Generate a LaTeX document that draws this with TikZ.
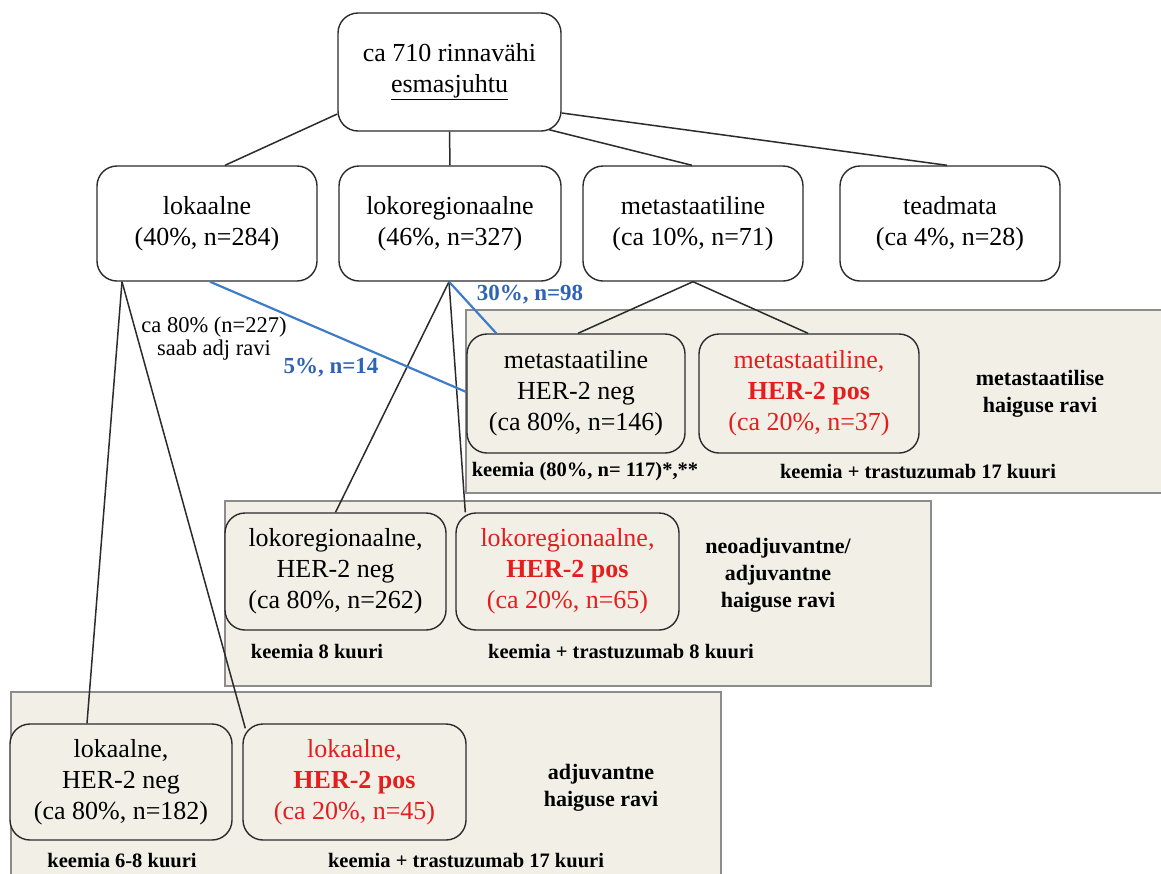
\documentclass[tikz,border=0pt]{standalone}
\usepackage{fontspec}
\setmainfont{Liberation Serif}
\definecolor{boxline}{HTML}{2B2B2B}
\definecolor{panelline}{HTML}{8C8C8C}
\definecolor{panelfill}{HTML}{F2EFE7}
\definecolor{blueline}{HTML}{3D7CC9}
\definecolor{bluetext}{HTML}{2F63B5}
\definecolor{redtext}{HTML}{E41E1E}
\tikzset{
  box/.style={draw=boxline, line width=1.4pt, rounded corners=20pt, fill=white,
    align=center, inner sep=0pt, font=\fontsize{26}{31}\selectfont},
  subbox/.style={box, fill=panelfill},
  posbox/.style={subbox, text=redtext},
  panel/.style={draw=panelline, fill=panelfill, line width=1.5pt, inner sep=0pt, anchor=north west},
  link/.style={line width=1.5pt, draw=boxline},
  bluelink/.style={line width=2.2pt, draw=blueline},
  note/.style={font=\bfseries\fontsize{20.5}{25}\selectfont, align=center, inner sep=0pt},
  sidenote/.style={font=\bfseries\fontsize{22}{27}\selectfont, align=center, inner sep=0pt},
  bluenote/.style={font=\bfseries\fontsize{23}{26}\selectfont, text=bluetext, inner sep=0pt},
  plainnote/.style={font=\fontsize{22.5}{23}\selectfont, align=center, inner sep=0pt},
}
\begin{document}
\begin{tikzpicture}[x=1pt, y=-1pt]
\useasboundingbox (0,0) rectangle (1161,873);
\clip (0,0) rectangle (1161,873);

% treatment panels
\node[panel, minimum width=712pt, minimum height=183pt] (pmet) at (465,309) {};
\node[panel, minimum width=706pt, minimum height=185pt] (preg) at (224,500) {};
\node[panel, minimum width=710pt, minimum height=190pt] (plok) at (10,691) {};

% root and stage boxes
\node[box, minimum width=223pt, minimum height=118pt] (top) at (449.5,72)
  {ca 710 rinnavähi\\\underline{esmasjuhtu}};
\node[box, minimum width=220pt, minimum height=115pt] (lok) at (207,223.5)
  {lokaalne\\(40\%, n=284)};
\node[box, minimum width=222pt, minimum height=115pt] (lokreg) at (450,223.5)
  {lokoregionaalne\\(46\%, n=327)};
\node[box, minimum width=220pt, minimum height=115pt] (met) at (693,223.5)
  {metastaatiline\\(ca 10\%, n=71)};
\node[box, minimum width=220pt, minimum height=115pt] (tead) at (950,223.5)
  {teadmata\\(ca 4\%, n=28)};

% HER-2 subgroups
\node[subbox, minimum width=218pt, minimum height=119pt] (metneg) at (576,393.5)
  {metastaatiline\\HER-2 neg\\(ca 80\%, n=146)};
\node[posbox, minimum width=220pt, minimum height=119pt] (metpos) at (809,393.5)
  {metastaatiline,\\\textbf{HER-2 pos}\\(ca 20\%, n=37)};
\node[subbox, minimum width=221pt, minimum height=117pt] (lrneg) at (335.5,571.5)
  {lokoregionaalne,\\HER-2 neg\\(ca 80\%, n=262)};
\node[posbox, minimum width=223pt, minimum height=117pt] (lrpos) at (567.5,571.5)
  {lokoregionaalne,\\\textbf{HER-2 pos}\\(ca 20\%, n=65)};
\node[subbox, minimum width=222pt, minimum height=116pt] (lneg) at (121,782)
  {lokaalne,\\HER-2 neg\\(ca 80\%, n=182)};
\node[posbox, minimum width=223pt, minimum height=116pt] (lpos) at (354.5,782)
  {lokaalne,\\\textbf{HER-2 pos}\\(ca 20\%, n=45)};

% panel captions and regimens
\node[sidenote] (tmet) at (1040,394) {metastaatilise\\haiguse ravi};
\node[note] (rmetneg) at (585,472) {keemia (80\%, n= 117)*,**};
\node[note] (rmetpos) at (918,472) {keemia + trastuzumab 17 kuuri};
\node[sidenote] (treg) at (778,575) {neoadjuvantne/\\adjuvantne\\haiguse ravi};
\node[note] (rlrneg) at (317,652) {keemia 8 kuuri};
\node[note] (rlrpos) at (621,652) {keemia + trastuzumab 8 kuuri};
\node[sidenote] (tlok) at (601,788) {adjuvantne\\haiguse ravi};
\node[note] (rlneg) at (122,860) {keemia 6-8 kuuri};
\node[note] (rlpos) at (466,860) {keemia + trastuzumab 17 kuuri};

% connectors from the root
\draw[link] ([yshift=-42pt]top.west) -- ([xshift=18pt]lok.north);
\draw[link] (top.south) -- (lokreg.north);
\draw[link] ([xshift=99.5pt,yshift=2pt]top.south) -- ([xshift=-1pt]met.north);
\draw[link] ([yshift=-41pt]top.east) -- ([xshift=-3pt]tead.north);

% connectors to the subgroups
\draw[link] ([xshift=-85pt]lok.south) -- ([xshift=-34pt]lneg.north);
\draw[link] ([xshift=-85pt]lok.south) -- ([xshift=3pt,yshift=-5pt]lpos.north west);
\draw[link] ([xshift=-1pt]lokreg.south) -- (lrneg.north);
\draw[link] ([xshift=-1pt]lokreg.south) -- ([xshift=10pt]lrpos.north west);
\draw[link] (met.south) -- ([xshift=2pt]metneg.north);
\draw[link] (met.south) -- ([xshift=-1pt]metpos.north);

% progression to metastatic disease
\draw[bluelink] ([xshift=3pt]lok.south) -- ([yshift=1.5pt]metneg.west);
\draw[bluelink] ([xshift=-1pt]lokreg.south) -- ([xshift=30pt]metneg.north west);

% connector labels
\node[plainnote] (adj) at (214,339) {ca 80\% (n=227)\\saab adj ravi};
\node[bluenote] (l30) at (530,295) {30\%, n=98};
\node[bluenote] (l5) at (331,368) {5\%, n=14};
\end{tikzpicture}
\end{document}
